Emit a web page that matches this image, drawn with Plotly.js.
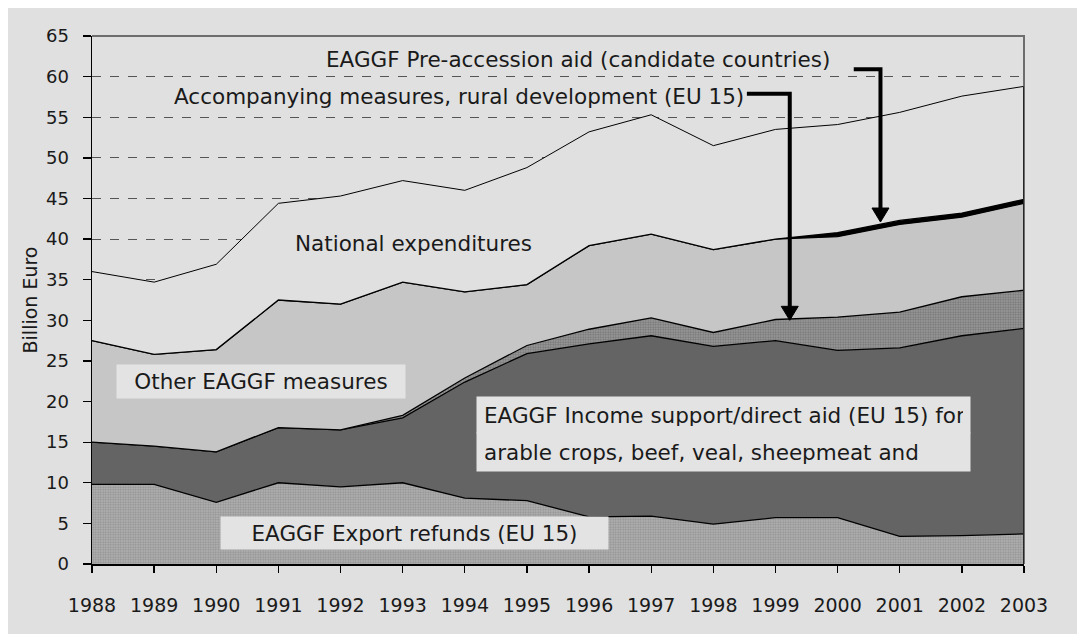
<!DOCTYPE html>
<html>
<head>
<meta charset="utf-8">
<script src="https://cdn.plot.ly/plotly-3.0.1.min.js"></script>
<style>
  html, body { margin: 0; padding: 0; background: #ffffff; }
  #chart { position: absolute; left: 8px; top: 8px; width: 1069px; height: 626px; }
</style>
</head>
<body>
<div id="chart"></div>
<script>
// ---- data (billion euro) ----
const years = [1988, 1989, 1990, 1991, 1992, 1993, 1994, 1995, 1996, 1997, 1998, 1999, 2000, 2001, 2002, 2003];
const exportRefunds  = [9.8, 9.8, 7.6, 10.0, 9.5, 10.0, 8.1, 7.8, 5.8, 5.9, 4.9, 5.7, 5.7, 3.4, 3.5, 3.7];
const incomeSupport  = [5.2, 4.7, 6.2, 6.8, 7.0, 8.0, 14.3, 18.1, 21.3, 22.2, 21.9, 21.8, 20.6, 23.2, 24.6, 25.3];
const accompanying   = [0, 0, 0, 0, 0, 0.3, 0.5, 1.0, 1.8, 2.2, 1.7, 2.6, 4.1, 4.4, 4.8, 4.7];
const otherEAGGF     = [12.5, 11.3, 12.6, 15.7, 15.5, 16.4, 10.6, 7.5, 10.3, 10.3, 10.2, 9.9, 9.9, 10.8, 9.8, 10.7];
const preAccession   = [0, 0, 0, 0, 0, 0, 0, 0, 0, 0, 0, 0, 0.5, 0.5, 0.5, 0.5];
const nationalExp    = [8.5, 8.9, 10.5, 11.9, 13.3, 12.5, 12.5, 14.4, 14.0, 14.7, 12.8, 13.5, 13.3, 13.3, 14.4, 13.9];

const labelPreAccession = "EAGGF Pre-accession aid (candidate countries)";
const labelAccompanying = "Accompanying measures, rural development (EU 15)";
const labelNational     = "National expenditures";
const labelOther        = "Other EAGGF measures";
const labelIncome1      = "EAGGF Income support/direct aid (EU 15) for";
const labelIncome2      = "arable crops, beef, veal, sheepmeat and";
const labelExport       = "EAGGF Export refunds (EU 15)";
const yTitle            = "Billion Euro";

// ---- geometry helpers (plot area in page pixels) ----
const PX0 = 92, PX1 = 1024, PY0 = 36, PY1 = 564;
const fx = p => (p - PX0) / (PX1 - PX0);
const fy = p => (PY1 - p) / (PY1 - PY0);

const FONT = "DejaVu Sans, Verdana, sans-serif";
const edge = { color: "#000000", width: 1.3 };

function tr(name, y, extra) {
  return Object.assign({
    type: "scatter", mode: "lines", x: years, y: y, name: name,
    stackgroup: "one", line: edge, hoverinfo: "skip", showlegend: false
  }, extra);
}

const traces = [
  tr(labelExport, exportRefunds, {
    fillcolor: "#b0b0b0",
    fillpattern: { shape: ".", bgcolor: "#b6b6b6", fgcolor: "#939393", size: 2.5, solidity: 0.5 }
  }),
  tr(labelIncome1, incomeSupport, { fillcolor: "#646464" }),
  tr(labelAccompanying, accompanying, {
    fillcolor: "#909090",
    fillpattern: { shape: ".", bgcolor: "#a0a0a0", fgcolor: "#767676", size: 2.5, solidity: 0.5 }
  }),
  tr(labelOther, otherEAGGF, { fillcolor: "#c6c6c6" }),
  tr(labelPreAccession, preAccession, { fillcolor: "#000000" }),
  tr(labelNational, nationalExp, { fillcolor: "#e0e0e0", line: { color: "#000000", width: 1 } })
];

// total at last year for the black right edge of the areas
const last = years.length - 1;
const totalLast = exportRefunds[last] + incomeSupport[last] + accompanying[last] +
                  otherEAGGF[last] + preAccession[last] + nationalExp[last];

function ann(text, px, py, extra) {
  return Object.assign({
    text: text, xref: "paper", yref: "paper", x: fx(px), y: fy(py),
    xanchor: "center", yanchor: "middle", showarrow: false,
    font: { family: FONT, size: 21.5, color: "#1a1a1a" }
  }, extra);
}

const annotations = [
  ann(labelPreAccession, 578, 59),
  ann(labelAccompanying, 459, 97),
  ann(labelNational, 413, 243),
  ann(labelOther, 261, 381.5, { bgcolor: "#e3e3e3", width: 288, height: 33, borderpad: 0 }),
  ann(labelIncome1, 723.5, 415, { bgcolor: "#e3e3e3", width: 479, height: 22, borderpad: 7, align: "left" }),
  ann(labelIncome2, 723.5, 452, { bgcolor: "#e3e3e3", width: 479, height: 24, borderpad: 7, align: "left" }),
  ann(labelExport, 414.5, 533, { bgcolor: "#e3e3e3", width: 387, height: 32, borderpad: 0 })
];

// arrow geometry in data units
const headHalfW = 8.5 / 62.13, headH = 14 / 8.128;
function arrowShapes(x0, y0, xv, ytip) {
  return [
    { type: "path", xref: "x", yref: "y", layer: "above",
      path: `M ${x0},${y0} L ${xv},${y0} L ${xv},${ytip + headH * 0.7}`,
      line: { color: "#000000", width: 4 } },
    { type: "path", xref: "x", yref: "y", layer: "above",
      path: `M ${xv - headHalfW},${ytip + headH} L ${xv + headHalfW},${ytip + headH} L ${xv},${ytip} Z`,
      fillcolor: "#000000", line: { color: "#000000", width: 1 } }
  ];
}

const shapes = [
  // grey frame top and right
  { type: "path", xref: "paper", yref: "paper", layer: "above",
    path: "M 0,1 L 1,1 L 1,0", line: { color: "#6e6e6e", width: 2 } },
  // black right edge of the stacked areas
  { type: "line", xref: "x", yref: "y", layer: "above",
    x0: years[last], x1: years[last], y0: 0, y1: totalLast,
    line: { color: "#000000", width: 1.3 } },
  ...arrowShapes(1998.54, 57.9, 1999.23, 30.0),
  ...arrowShapes(2000.26, 60.9, 2000.69, 42.1)
];

const layout = {
  width: 1069, height: 626,
  margin: { l: PX0 - 8, r: 1077 - PX1, t: PY0 - 8, b: 634 - PY1, pad: 0 },
  paper_bgcolor: "#e0e0e0",
  plot_bgcolor: "#e0e0e0",
  showlegend: false,
  font: { family: FONT, color: "#1a1a1a" },
  xaxis: {
    range: [years[0], years[last]],
    tickmode: "array", tickvals: years, ticktext: years.map(String),
    ticks: "outside", ticklen: 7, tickwidth: 1.3, tickcolor: "#000000",
    ticklabelstandoff: 17,
    tickfont: { family: FONT, size: 19, color: "#1a1a1a" },
    showgrid: false, zeroline: false,
    showline: true, linecolor: "#000000", linewidth: 1.5,
    fixedrange: true
  },
  yaxis: {
    range: [0, 65], dtick: 5, tick0: 0,
    ticks: "outside", ticklen: 8, tickwidth: 1.3, tickcolor: "#000000",
    ticklabelstandoff: 10,
    tickfont: { family: FONT, size: 18, color: "#1a1a1a" },
    showgrid: true, gridcolor: "#555555", gridwidth: 1, griddash: "dash",
    zeroline: false,
    showline: true, linecolor: "#000000", linewidth: 1.5,
    title: { text: yTitle, font: { family: FONT, size: 19, color: "#1a1a1a" }, standoff: 3 },
    fixedrange: true
  },
  annotations: annotations,
  shapes: shapes
};

Plotly.newPlot("chart", traces, layout, { displayModeBar: false, staticPlot: true });
</script>
</body>
</html>
